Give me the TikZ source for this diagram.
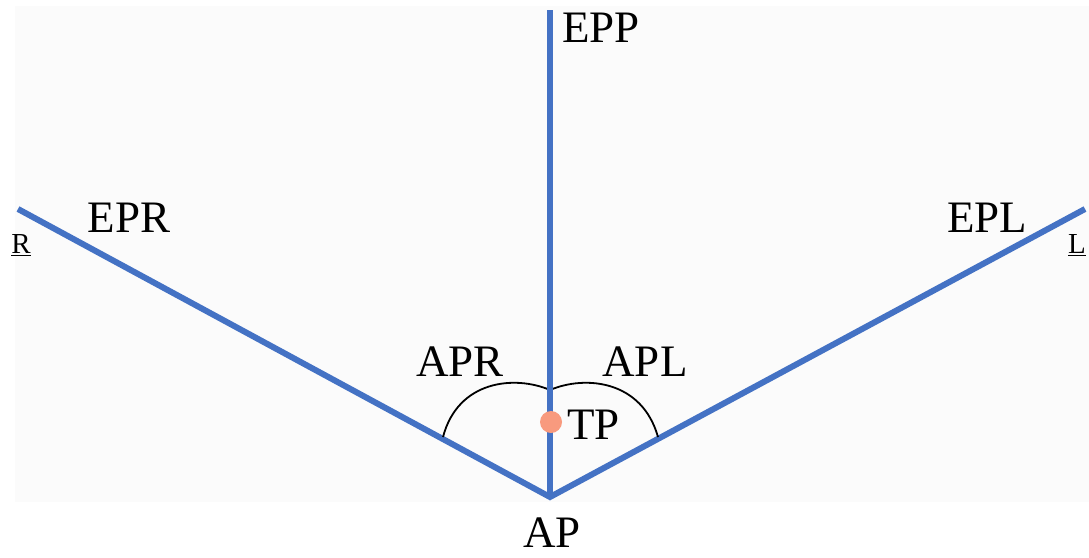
\documentclass[tikz,border=0pt]{standalone}
\usepackage{fontspec}
\setmainfont{Liberation Serif}
\newfontfamily\lblfont{Liberation Serif}
\usepackage{tikz}
\usetikzlibrary{positioning}
\definecolor{planeblue}{HTML}{4472C4}
\definecolor{tpdot}{HTML}{F89A7E}
\tikzset{
  plane/.style={draw=planeblue,line width=6pt},
  angarc/.style={draw=black,line width=1.8pt},
  lbl/.style={font=\lblfont\fontsize{45}{47}\selectfont,inner sep=0pt},
  side/.style={font=\lblfont\fontsize{29}{31}\selectfont,inner sep=0pt}
}

\begin{document}
\begin{tikzpicture}[x=1pt,y=-1pt]
\useasboundingbox (0,0) rectangle (1089,557);
\fill[black!1.5] (15,6) rectangle (1089,502);
% ---- planes ----
\coordinate (AP) at (550,497);
\coordinate (EPPend) at (550,10);
\coordinate (EPRend) at (18,209);
\coordinate (EPLend) at (1085,209);
\draw[plane] (AP) -- (EPPend);
\draw[plane,line join=miter] (EPRend) -- (AP) -- (EPLend);
% ---- angles ----
\coordinate (arcR) at (443,437);
\coordinate (arcTop) at (550,390);
\coordinate (arcL) at (658,437);
\draw[angarc] (arcR) .. controls (458,380) and (515,375) .. (arcTop);
\draw[angarc] (arcTop) .. controls (585,375) and (642,380) .. (arcL);
\draw[plane] (550,370) -- (550,410);
\fill[tpdot] (551,422) circle (11);
% ---- labels ----
\node[lbl,anchor=west] (eppLbl) at (562,28) {EPP};
\node[lbl] (eprLbl) at (129,218) {EPR};
\node[lbl] (eplLbl) at (987,218) {EPL};
\node[lbl] (aprLbl) at (460,362) {APR};
\node[lbl] (aplLbl) at (645,362) {APL};
\node[lbl,anchor=west] (tpLbl) at (567,425) {TP};
\node[lbl] (apLbl) at (552,533) {AP};
\node[side] (rLbl) at (21,245) {\underline{R}};
\node[side] (lLbl) at (1077,245) {\underline{L}};
\end{tikzpicture}
\end{document}
